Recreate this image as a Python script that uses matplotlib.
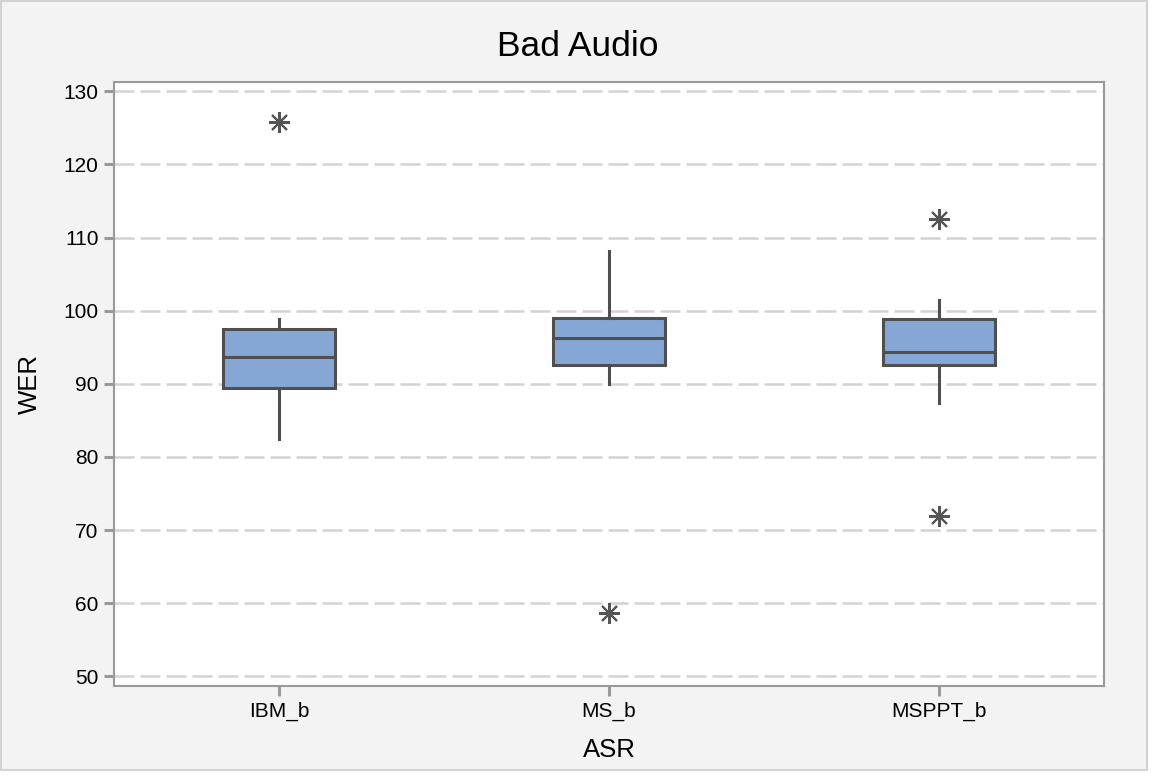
import matplotlib
matplotlib.use("Agg")
import matplotlib.pyplot as plt
from matplotlib.patches import Rectangle

plt.rcParams['font.family'] = ['Liberation Sans', 'DejaVu Sans']

# box summary values
groups = ["IBM_b", "MS_b", "MSPPT_b"]
whis_lo = [82.5, 90.0, 87.4]
q1 = [89.4, 92.5, 92.5]
medians = [93.7, 96.3, 94.3]
q3 = [97.5, 99.0, 98.8]
whis_hi = [98.8, 108.2, 101.5]
outliers = [[125.8], [58.7], [112.6, 71.9]]

W, H = 1156, 778
fig = plt.figure(figsize=(W / 100, H / 100), dpi=100, facecolor="white")

# grey panel behind everything
fig.patches.append(Rectangle((1 / W, 8 / H), 1146 / W, 769 / H, transform=fig.transFigure,
                             facecolor="#f3f3f3", edgecolor="#d2d2d2", linewidth=1.5, zorder=-10))

ax = fig.add_axes([114 / W, 1 - 686 / H, 990 / W, 604 / H])
ax.set_facecolor("white")

stats = []
for i, g in enumerate(groups):
    stats.append(dict(label=g, whislo=whis_lo[i], q1=q1[i], med=medians[i],
                      q3=q3[i], whishi=whis_hi[i], fliers=outliers[i]))

edge = "#4f4f4f"
ax.bxp(stats, positions=[1, 2, 3], widths=0.34, patch_artist=True, showcaps=False,
       boxprops=dict(facecolor="#86a7d6", edgecolor=edge, linewidth=2.2),
       medianprops=dict(color=edge, linewidth=2.2),
       whiskerprops=dict(color=edge, linewidth=2.2),
       flierprops=dict(marker=(8, 2, 0), markersize=15, markeredgecolor="#555555",
                       markeredgewidth=1.5, markerfacecolor="none"))

ax.set_xlim(0.5, 3.5)
ax.set_ylim(48.67, 131.27)
ax.set_yticks(range(50, 131, 10))
ax.set_xticks([1, 2, 3])
ax.set_xticklabels(groups)

ax.yaxis.grid(True, color="#d3d3d3", linewidth=1.8, linestyle=(0, (8, 2.4)))
ax.set_axisbelow(True)

for s in ax.spines.values():
    s.set_color("#9a9a9a")
    s.set_linewidth(1.5)
ax.tick_params(axis="both", color="#9a9a9a", width=2.2, length=7, labelsize=15,
               labelcolor="black", pad=4)

fig.text(0.5, 1 - 47 / H, "Bad Audio", ha="center", va="center", fontsize=25.5)
fig.text(30 / W, 1 - 384 / H, "WER", ha="center", va="center", rotation=90, fontsize=18.5)
fig.text(609 / W, 1 - 750 / H, "ASR", ha="center", va="center", fontsize=18.5)

fig.savefig("out.png", dpi=100, facecolor=fig.get_facecolor())
